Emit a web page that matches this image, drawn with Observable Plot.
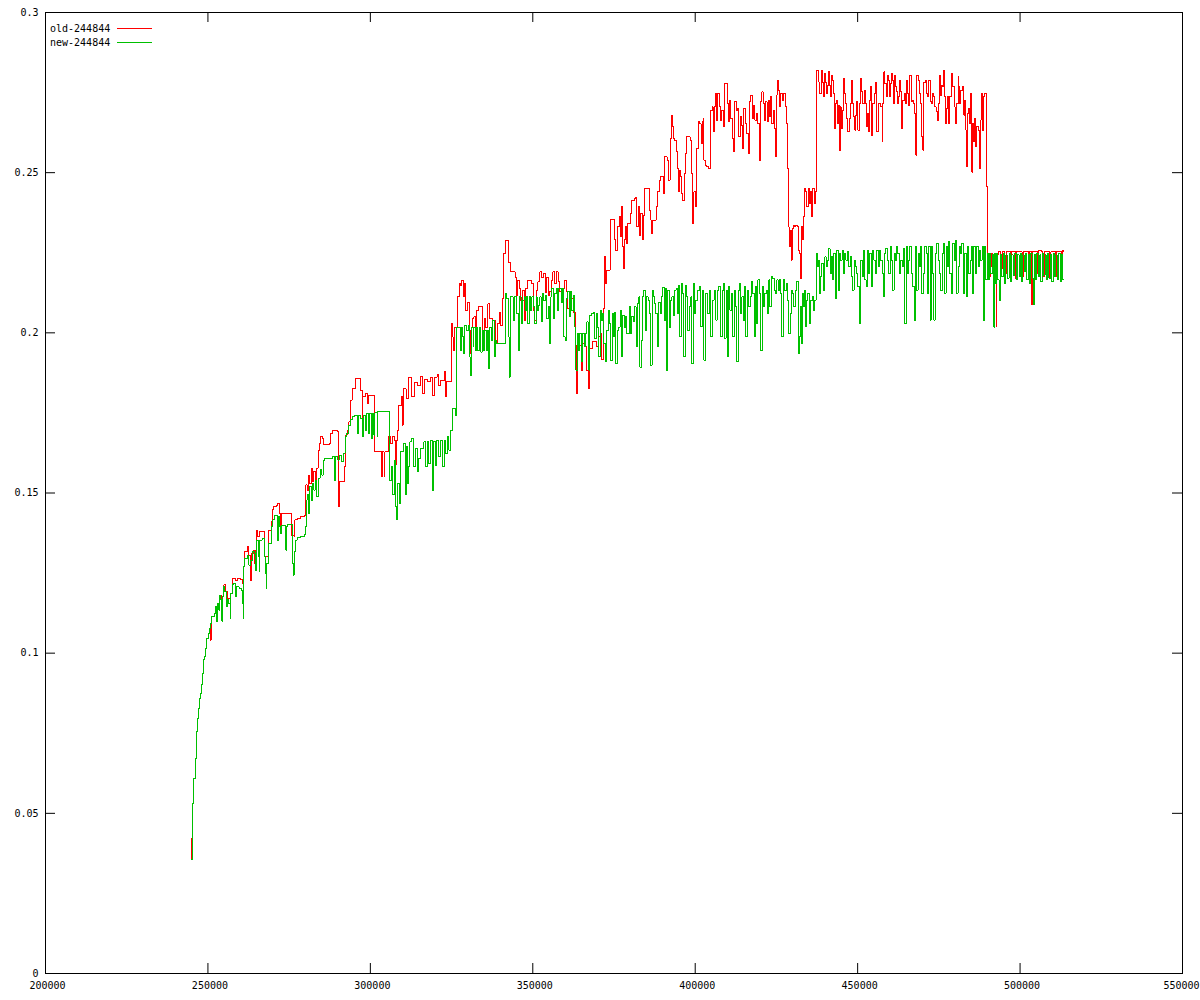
<!DOCTYPE html>
<html>
<head>
<meta charset="utf-8">
<script src="https://cdn.jsdelivr.net/npm/d3@7"></script>
<script src="https://cdn.jsdelivr.net/npm/@observablehq/plot@0.6"></script>
<style>
  html, body { margin: 0; padding: 0; background: #fff; }
  #wrap { position: relative; width: 1200px; height: 1000px; }
  #legend { position: absolute; left: 50px; top: 21px; font: 10px "DejaVu Sans Mono", monospace; color: #000; }
  #legend .row { display: flex; align-items: center; height: 14px; }
  #legend .sw { display: inline-block; width: 35px; height: 0; margin-left: 7px; border-top: 1px solid; }
</style>
</head>
<body>
<div id="wrap"></div>
<script>
// ---- data (x in thousands, y value) ----
const seriesNames = ["old-244844", "new-244844"];
const seriesColors = ["#ff0000", "#00c000"];
const xTicks = [200000, 250000, 300000, 350000, 400000, 450000, 500000, 550000];
const yTicks = [0, 0.05, 0.1, 0.15, 0.2, 0.25, 0.3];

const oldSeries = [
[244.85,0.0360],[245.0,0.0423],[245.1,0.0436],[245.4,0.0532],[245.7,0.061],[246.1,0.0672],[246.4,0.0755],[246.7,0.0797],[247.0,0.0828],[247.4,0.0859],[247.8,0.0873],[248.1,0.0901],[248.4,0.0937],[248.6,0.0979],[249.0,0.0991],[249.3,0.1015],[249.6,0.1046],[250.3,0.1062],[250.6,0.1077],[250.8,0.1041],[251.0,0.1093],[251.1,0.1114],[251.9,0.1124],[252.2,0.1145],[253.1,0.1155],[253.7,0.1181],[254.3,0.1150],[254.5,0.1176],[254.9,0.1213],[255.4,0.1192],[256.0,0.1171],[256.8,0.1166],[257.0,0.1187],[257.5,0.1234],[258.5,0.1228],[259.0,0.1234],[260.0,0.1229],[260.6,0.1218],[261.1,0.1270],[261.4,0.1317],[262.1,0.1332],[262.6,0.1306],[263.0,0.1290],[263.1,0.1228],[263.3,0.1312],[264.0,0.1322],[264.4,0.1280],[264.7,0.1322],[265.0,0.1384],[265.4,0.1364],[266.0,0.1379],[266.9,0.1379],[267.5,0.1301],[268.5,0.1384],[269.3,0.1384],[269.5,0.1410],[269.8,0.1447],[270.3,0.1457],[271.0,0.1462],[271.4,0.1466],[271.9,0.1468],[272.1,0.1436],[272.4,0.1379],[272.7,0.1436],[275.5,0.1436],[275.8,0.1366],[276.5,0.1364],[276.8,0.1416],[277.5,0.1421],[278.5,0.1426],[279.6,0.1431],[280.1,0.1525],[280.6,0.1509],[281.1,0.1556],[281.4,0.1530],[281.8,0.1577],[282.3,0.1535],[282.6,0.1567],[283.0,0.1535],[283.5,0.1577],[283.9,0.1634],[284.3,0.1655],[284.7,0.1676],[285.2,0.1670],[285.5,0.1650],[286.7,0.1650],[287.3,0.1655],[287.6,0.1686],[288.3,0.1694],[290.0,0.1691],[290.1,0.1535],[290.3,0.1457],[290.6,0.1535],[291.6,0.1535],[291.9,0.1582],[292.2,0.1681],[292.9,0.1696],[293.4,0.1722],[293.9,0.1790],[294.4,0.1826],[295.5,0.1857],[296.4,0.1857],[297.0,0.1820],[297.5,0.1686],[297.7,0.1800],[298.5,0.1810],[299.2,0.1780],[299.5,0.1805],[300.5,0.1805],[301.4,0.1629],[303.2,0.1629],[303.5,0.1550],[303.8,0.1629],[304.2,0.1550],[304.5,0.1629],[305.7,0.1676],[306.2,0.1655],[306.8,0.1676],[307.3,0.1665],[307.8,0.1590],[308.1,0.1665],[308.5,0.1696],[308.8,0.1774],[309.5,0.1800],[309.8,0.1712],[310.1,0.1800],[310.3,0.1825],[311.0,0.1795],[311.6,0.1862],[312.4,0.1862],[312.8,0.1800],[313.5,0.1845],[314.5,0.1835],[315.3,0.1865],[316.0,0.1810],[316.6,0.1855],[317.5,0.1848],[318.5,0.1862],[319.2,0.1805],[319.8,0.1862],[320.6,0.1870],[321.0,0.1835],
[321.65,0.1852],[322.7,0.1878],[323.2,0.1800],[323.5,0.1847],[324.9,0.2029],[325.2,0.1987],[325.5,0.1946],[326.0,0.2018],[326.8,0.2112],[327.3,0.2154],[327.8,0.2148],[328.2,0.2164],[328.6,0.2112],[329.0,0.2154],[329.4,0.2070],[329.9,0.2096],[330.4,0.2008],[330.7,0.1935],[331.1,0.2018],[331.5,0.2044],[331.9,0.2050],[332.3,0.1987],[332.7,0.2070],[333.4,0.2081],[334.5,0.1972],[335.0,0.2044],[335.5,0.2018],[336.2,0.2091],[336.8,0.2044],[337.6,0.2039],[338.6,0.1966],[339.1,0.2029],[339.6,0.2065],[340.1,0.2024],[340.6,0.2107],[341.1,0.2247],[341.5,0.2289],[342.5,0.2221],[343.2,0.2190],[344.6,0.2174],[344.9,0.2117],[345.3,0.2164],[345.8,0.2138],[346.3,0.2102],[346.8,0.2133],[347.3,0.2039],[347.8,0.2138],[348.3,0.2164],[349.6,0.2154],[350.2,0.2070],[350.6,0.2039],[351.0,0.2133],[351.6,0.2159],[352.2,0.2190],[352.7,0.2174],[353.3,0.2185],[353.8,0.2127],[354.3,0.2174],[354.7,0.2117],[355.2,0.2128],[355.7,0.2164],[356.2,0.2190],[356.7,0.2154],[357.3,0.2190],[357.8,0.2159],[358.3,0.2128],[358.8,0.2102],[359.3,0.2138],[359.8,0.2164],[360.3,0.2128],[360.8,0.2076],[361.4,0.2112],[361.9,0.2107],[362.5,0.2065],[363.0,0.2008],[363.3,0.1961],[363.5,0.1810],[363.9,0.1961],[364.9,0.1883],[365.4,0.1966],[366.0,0.1956],[366.5,0.1883],[367.0,0.1904],[367.3,0.1826],[367.6,0.1951],[368.3,0.1972],[369.7,0.1956],[370.2,0.1987],[370.7,0.1998],[371.2,0.1916],[371.7,0.2076],
[372.0,0.2237],[372.5,0.2154],[372.8,0.2196],[373.8,0.2354],[375.2,0.2290],[375.5,0.2258],[376.0,0.2331],[376.6,0.2362],[376.9,0.2300],[377.3,0.2393],[377.6,0.2269],[377.9,0.2201],[378.1,0.2290],[378.6,0.2331],[378.9,0.2279],[379.3,0.2342],[380.2,0.2373],[380.5,0.2414],[381.4,0.2419],[381.7,0.2424],[382.0,0.2331],[382.4,0.2393],[382.8,0.2305],[383.2,0.2373],[383.7,0.2290],[384.0,0.2367],[384.5,0.2451],[385.5,0.2451],[385.9,0.2383],[386.3,0.2352],[386.6,0.2310],[387.0,0.2352],[388.0,0.2393],[388.5,0.2440],[389.0,0.2477],[389.4,0.2487],[390.2,0.2435],[390.5,0.2549],[391.4,0.2539],[391.7,0.2477],[392.3,0.2607],[392.6,0.2680],[393.0,0.2643],[393.3,0.2607],[393.7,0.2601],[394.2,0.2565],[394.5,0.2513],[394.8,0.2440],[395.1,0.2508],[395.5,0.2487],[395.9,0.2435],[396.2,0.2414],[396.6,0.2497],[396.9,0.2560],[397.4,0.2612],[398.4,0.2601],[398.9,0.2497],[399.2,0.2341],[399.6,0.2440],[400.1,0.2393],[400.5,0.2575],[400.9,0.2659],[401.4,0.2653],[401.8,0.2591],[402.1,0.2659],[402.4,0.2669],[402.7,0.2539],[403.1,0.2523],[403.5,0.2518],[404.2,0.2513],[404.6,0.2591],[404.8,0.2695],[405.3,0.2705],[405.6,0.2627],[405.9,0.2705],[406.3,0.2747],[406.6,0.2664],[407.0,0.2747],[407.4,0.2705],[407.8,0.2664],[408.2,0.2695],[408.6,0.2643],[409.0,0.2778],[409.5,0.2778],[409.8,0.2716],[410.1,0.2659],[410.5,0.2726],[411.0,0.2669],[411.4,0.2607],[411.7,0.2565],[412.2,0.2721],[412.6,0.2695],[413.0,0.2700],[413.4,0.2612],[413.8,0.2674],[414.2,0.2648],[414.6,0.2575],[415.0,0.2700],[415.4,0.2653],[415.8,0.2622],[416.3,0.2560],[416.7,0.2721],[417.1,0.2742],[417.6,0.2669],[418.0,0.2711],[418.4,0.2664],[418.8,0.2685],[419.2,0.2653],[419.7,0.2539],[420.1,0.2721],[420.5,0.2752],[420.9,0.2716],[421.3,0.2664],[421.7,0.2721],[422.1,0.2659],[422.5,0.2726],[422.9,0.2674],[423.2,0.2737],[423.6,0.2653],[424.0,0.2695],[424.3,0.2638],[424.6,0.2549],[424.9,0.2742],[425.2,0.2789],[425.6,0.2757],[426.0,0.2705],[426.4,0.2747],[426.8,0.2726],[427.3,0.2747],[427.7,0.2705],[428.1,0.2653],[428.4,0.2513],[428.7,0.2331],[428.9,0.2269],[429.2,0.2320],[429.5,0.2227],[429.8,0.2326],[430.2,0.2336],[430.6,0.2331],[431.0,0.2336],[431.5,0.2331],[431.8,0.2258],[432.1,0.2248],[432.4,0.2170],[432.7,0.2331],[433.0,0.2290],[433.3,0.2362],[433.6,0.2451],[434.0,0.2440],[434.4,0.2393],[434.8,0.2451],[435.2,0.2404],[435.6,0.2440],[435.9,0.2362],[436.2,0.2451],[436.6,0.2404],[436.9,0.2440],[437.2,0.2820],
[437.9,0.2820],[438.1,0.2783],[438.4,0.2747],[438.8,0.2820],[439.1,0.2783],[439.4,0.2737],[439.7,0.2809],[440.0,0.2783],[440.3,0.2747],[440.7,0.2773],[441.0,0.2815],[441.3,0.2773],[441.7,0.2737],[442.0,0.2804],[442.3,0.2789],[442.6,0.2747],[443.0,0.2638],[443.3,0.2716],[443.6,0.2726],[443.9,0.2653],[444.2,0.2711],[444.4,0.2570],[444.7,0.2705],[445.0,0.2638],[445.3,0.2695],[445.6,0.2794],[445.9,0.2747],[446.3,0.2716],[446.7,0.2669],[447.0,0.2627],[447.4,0.2669],[447.7,0.2716],[448.0,0.2789],[448.3,0.2716],[448.7,0.2674],[449.1,0.2633],[449.4,0.2680],[449.7,0.2721],[450.1,0.2633],[450.6,0.2716],[451.0,0.2794],[451.3,0.2752],[451.6,0.2716],[452.0,0.2757],[452.4,0.2716],[452.7,0.2643],[453.0,0.2685],[453.4,0.2627],[453.7,0.2726],[454.0,0.2768],[454.3,0.2617],[454.6,0.2716],[455.1,0.2747],[455.5,0.2783],[455.8,0.2627],[456.1,0.2627],[456.4,0.2716],[457.1,0.2705],[457.5,0.2596],[457.8,0.2716],[458.1,0.2815],[458.4,0.2778],[458.8,0.2737],[459.1,0.2804],[459.4,0.2789],[459.7,0.2737],[460.0,0.2778],[460.3,0.2809],[460.6,0.2789],[461.0,0.2716],[461.3,0.2804],[461.7,0.2768],[462.0,0.2752],[462.3,0.2716],[462.7,0.2737],[463.0,0.2789],[463.3,0.2752],[463.6,0.2638],[463.9,0.2726],[464.3,0.2747],[464.7,0.2716],[465.1,0.2789],[465.4,0.2747],[465.7,0.2711],[466.0,0.2804],[466.5,0.2721],[466.9,0.2726],[467.2,0.2716],[467.6,0.2685],[467.9,0.2555],[468.2,0.2804],[468.6,0.2789],[469.0,0.2747],[469.4,0.2716],[469.8,0.2612],[470.1,0.2570],[470.4,0.2783],[470.9,0.2789],[471.2,0.2747],[471.5,0.2737],[471.9,0.2789],[472.3,0.2721],[472.7,0.2716],[473.1,0.2747],[473.5,0.2737],[473.8,0.2705],[474.2,0.2690],[474.5,0.2664],[474.8,0.2716],[475.1,0.2804],[475.4,0.2742],[475.7,0.2773],[476.0,0.2768],[476.3,0.2820],[476.6,0.2737],[477.0,0.2654],[477.3,0.2700],[477.6,0.2737],[478.0,0.2654],[478.4,0.2737],[478.9,0.2809],[479.3,0.2768],[479.7,0.2705],[480.1,0.2654],[480.5,0.2716],[480.9,0.2799],[481.2,0.2768],[481.5,0.2716],[481.8,0.2757],[482.3,0.2768],[482.6,0.2680],[483.0,0.2726],[483.3,0.2633],[483.6,0.2518],[483.9,0.2685],[484.2,0.2700],[484.5,0.2654],[484.8,0.2747],[485.1,0.2502],[485.4,0.2654],[485.7,0.2596],[486.0,0.2669],[486.4,0.2581],[486.7,0.2643],[487.1,0.2633],[487.4,0.2513],[487.7,0.2664],[488.0,0.2747],[488.4,0.2633],[488.7,0.2737],[489.0,0.2747],[489.6,0.2456],
[489.9,0.2248],[490.4,0.2175],[490.8,0.2206],[491.2,0.2248],[491.6,0.2185],[492.0,0.2206],[492.6,0.2019],[492.8,0.2243],[493.3,0.2253],[494.0,0.2200],[494.5,0.2253],[495.2,0.2185],[495.7,0.2253],[496.5,0.2253],[497.0,0.2190],[497.4,0.2253],[498.0,0.2253],[498.6,0.2170],[499.0,0.2253],[500.2,0.2253],[500.6,0.2175],[501.0,0.2253],[502.0,0.2253],[502.6,0.2170],[503.0,0.2253],[503.6,0.2087],[503.9,0.2253],[504.8,0.2253],[505.3,0.2185],[505.7,0.2258],[506.5,0.2253],[507.0,0.2175],[507.4,0.2253],[508.5,0.2253],[509.0,0.2170],[509.5,0.2253],[510.3,0.2253],[510.8,0.2175],[511.2,0.2253],[512.4,0.2253],[512.8,0.2175],[513.2,0.2258],[513.5,0.2253]
];

const newSeries = [
[244.85,0.0355],[245.1,0.0436],[245.4,0.0532],[245.7,0.061],[246.1,0.0672],[246.4,0.0755],[246.7,0.0797],[247.0,0.0828],[247.4,0.0859],[247.8,0.0873],[248.1,0.0901],[248.4,0.0937],[248.6,0.0979],[249.0,0.0991],[249.3,0.1015],[249.6,0.1046],[250.3,0.1062],[250.6,0.1077],[250.8,0.1093],[251.1,0.1114],[251.9,0.1124],[252.2,0.1145],[252.6,0.1098],[252.8,0.1140],[253.1,0.1155],[253.4,0.1134],[253.7,0.1181],[254.0,0.1166],[254.3,0.1100],[254.5,0.1176],[254.9,0.1207],[255.2,0.1192],[255.7,0.1145],[256.0,0.1166],[256.4,0.1155],[256.8,0.1109],[257.0,0.1187],[257.5,0.1213],[258.0,0.1218],[258.5,0.1176],[258.8,0.1207],[259.6,0.1202],[260.3,0.1197],[260.6,0.1155],[260.8,0.1109],[261.0,0.1270],[261.4,0.1296],[262.3,0.1306],[262.6,0.1275],[263.1,0.1290],[263.7,0.1317],[264.2,0.1312],[264.7,0.1259],[265.0,0.1353],[265.5,0.1301],[265.7,0.1353],[265.8,0.1254],[266.0,0.1353],[266.7,0.1358],[267.3,0.1301],[267.6,0.1249],[267.9,0.1202],[268.1,0.1280],[268.5,0.1343],[269.5,0.1395],[270.0,0.1416],[270.6,0.1431],[271.4,0.1353],[271.7,0.1426],[272.1,0.1395],[272.4,0.1374],[272.7,0.1400],[274.0,0.1322],[274.3,0.1395],[274.6,0.1403],[275.9,0.1280],[276.2,0.1244],[276.5,0.1317],[276.9,0.1353],[277.5,0.1362],[278.5,0.1364],[279.6,0.1369],[280.1,0.1395],[280.2,0.1478],[280.6,0.1494],[281.0,0.1436],[281.4,0.1520],[281.8,0.1478],[282.2,0.1530],[282.6,0.1509],[283.0,0.1540],[283.5,0.1488],[283.9,0.1546],[284.5,0.1572],[285.1,0.1556],[285.5,0.1603],[285.9,0.1608],[288.3,0.1615],[289.0,0.1540],[289.3,0.1613],[290.0,0.1603],[290.4,0.1618],[291.1,0.1598],[291.6,0.1624],[292.2,0.1676],[292.7,0.1686],[293.2,0.1712],[293.9,0.1728],[294.4,0.1738],[295.0,0.1743],[296.0,0.1686],[296.3,0.1743],[297.0,0.1733],[297.5,0.1676],[297.8,0.1743],[298.5,0.1696],[298.9,0.1748],[299.4,0.1686],[299.7,0.1748],[300.3,0.1670],[300.6,0.1748],[301.1,0.1681],[301.4,0.1750],[302.1,0.1676],[302.3,0.1754],[306.0,0.1540],[306.4,0.1582],[306.8,0.1494],[307.3,0.1603],[307.8,0.1457],[308.1,0.1416],[308.5,0.1530],[308.9,0.1468],[309.3,0.1629],[310.3,0.1655],[310.7,0.1494],[311.1,0.1644],[311.4,0.1530],[311.8,0.1582],[312.2,0.1660],[312.6,0.1670],[313.2,0.1644],[313.4,0.1582],[313.9,0.1639],[314.4,0.1566],[314.9,0.1608],[315.5,0.1639],[316.5,0.1660],[317.0,0.1582],[317.5,0.1660],[318.0,0.1592],[318.6,0.1665],[319.1,0.1509],[319.4,0.1660],[320.1,0.1587],[320.4,0.1665],[321.1,0.1613],[321.6,0.1665],[322.1,0.1582],[322.7,0.1665],[323.2,0.1624],[323.7,0.1676],[324.2,0.1634],[324.7,0.1696],[325.2,0.1764],[326.3,0.1743],
[326.6,0.2018],[327.8,0.1946],[328.1,0.2018],[328.5,0.1987],[328.8,0.1935],[329.1,0.2024],[329.7,0.2008],[330.1,0.2024],[330.4,0.1925],[330.7,0.1868],[331.1,0.2018],[331.6,0.1956],[331.9,0.2018],[332.3,0.1946],[332.7,0.2018],[333.1,0.1946],[333.6,0.2018],[334.0,0.1940],[334.4,0.2008],[334.8,0.1946],[335.2,0.2008],[335.6,0.1946],[336.0,0.2008],[336.4,0.1888],[336.8,0.2018],[337.2,0.1977],[337.7,0.2039],[338.1,0.1925],[338.5,0.1977],[338.9,0.1966],[341.5,0.2122],[342.0,0.2107],[342.5,0.1987],[342.8,0.1862],[343.1,0.2112],[344.0,0.2039],[344.4,0.2112],[345.0,0.2060],[345.5,0.1945],[345.9,0.2112],[346.4,0.2029],[346.8,0.2102],[347.3,0.2112],[347.7,0.2070],[348.1,0.2112],[348.5,0.2029],[348.9,0.2112],[349.3,0.2070],[349.7,0.2112],[350.2,0.2081],[350.6,0.2029],[351.0,0.2112],[351.4,0.2070],[351.8,0.2086],[352.2,0.2112],[352.6,0.2034],[353.0,0.2122],[353.4,0.2102],[353.9,0.2117],[354.3,0.2044],[354.7,0.2081],[355.1,0.1966],[355.5,0.2112],[355.9,0.2138],[356.3,0.2044],[356.7,0.2122],[357.2,0.2138],[357.6,0.2070],[358.0,0.2138],[358.8,0.2096],[359.2,0.2138],[359.6,0.1987],[360.0,0.1977],[360.4,0.2107],[360.8,0.2128],[361.2,0.2050],[361.6,0.2128],[362.0,0.2070],[362.5,0.2117],[362.9,0.2018],[363.3,0.1883],[363.7,0.1998],[364.1,0.1946],[364.5,0.1998],[364.9,0.1909],[365.3,0.1998],[365.8,0.1956],[366.2,0.1998],[366.6,0.2034],[367.0,0.2018],[367.3,0.1883],[367.6,0.2055],[368.2,0.2060],[368.6,0.2065],[369.1,0.1982],[369.5,0.2060],[369.9,0.2018],[370.3,0.1925],[370.7,0.2070],[371.1,0.2039],[371.5,0.2060],[371.9,0.1966],[372.3,0.1909],[372.7,0.2008],[373.2,0.2070],[373.6,0.2029],[374.0,0.1914],[374.4,0.2060],[374.8,0.1987],[375.2,0.2065],[375.6,0.1904],[376.0,0.2008],[376.5,0.2018],[376.9,0.2070],[377.3,0.1925],[377.7,0.2055],[378.1,0.2018],[378.5,0.2050],[378.9,0.1998],[379.3,0.1998],[379.7,0.2081],[380.1,0.1998],[380.5,0.2050],[380.9,0.2034],[381.4,0.2081],[381.8,0.1956],[382.2,0.2091],[382.6,0.2112],[383.0,0.1893],[383.4,0.1977],[383.8,0.2112],[384.2,0.2133],[384.6,0.2008],[385.0,0.2112],[385.5,0.2102],[385.9,0.2060],[386.3,0.1899],[386.7,0.2133],[387.1,0.2112],[387.5,0.2091],[387.9,0.2060],[388.3,0.1956],[388.7,0.2096],[389.2,0.2060],[389.6,0.2112],[390.0,0.2143],[390.4,0.2039],[390.8,0.2138],[391.2,0.1883],[391.6,0.2133],[392.0,0.2018],[392.4,0.2102],[392.8,0.2112],[393.3,0.2055],[393.7,0.2133],[394.1,0.2138],[394.5,0.2060],[394.9,0.2148],[395.3,0.1987],[395.7,0.2154],[396.1,0.2122],[396.5,0.1925],[396.9,0.2148],[397.3,0.2112],[397.7,0.2008],[398.2,0.2081],[398.6,0.2112],[399.0,0.1904],[399.4,0.2154],[399.8,0.2060],
[400.2,0.2102],[400.7,0.2133],[401.2,0.2144],[401.7,0.2019],[402.2,0.2133],[402.7,0.1915],[403.2,0.2123],[403.7,0.2061],[404.3,0.2133],[404.8,0.1988],[405.3,0.2102],[405.8,0.2133],[406.3,0.2040],[406.8,0.2133],[407.3,0.2144],[407.9,0.1988],[408.4,0.2133],[408.7,0.2154],[409.1,0.1983],[409.5,0.2133],[409.9,0.1925],[410.3,0.2144],[410.7,0.2071],[411.1,0.2123],[411.5,0.1988],[412.0,0.2133],[412.4,0.2081],[412.8,0.1910],[413.2,0.2133],[413.6,0.2154],[414.0,0.2061],[414.4,0.2113],[414.8,0.2040],[415.2,0.2144],[415.6,0.1988],[416.1,0.2133],[416.5,0.2081],[416.9,0.2113],[417.3,0.2159],[417.7,0.2123],[418.1,0.1988],[418.5,0.2144],[418.9,0.2029],[419.3,0.2165],[419.8,0.2123],[420.2,0.1946],[420.6,0.2144],[421.0,0.2081],[421.4,0.2123],[421.8,0.2133],[422.2,0.2061],[422.6,0.2165],[423.0,0.2081],[423.4,0.2175],[423.9,0.2170],[424.3,0.2133],[424.7,0.2123],[425.1,0.2165],[425.5,0.2133],[425.9,0.2165],[426.3,0.2123],[426.7,0.1988],[427.1,0.2165],[427.6,0.2133],[428.0,0.2154],[428.4,0.2102],[428.8,0.1998],[429.2,0.2061],[429.6,0.2133],[430.0,0.2123],[430.4,0.2081],[430.8,0.2133],[431.2,0.2159],[431.7,0.1936],[432.0,0.1988],[432.4,0.2081],[432.7,0.1967],[433.0,0.2123],[433.3,0.2081],[433.7,0.2133],[434.0,0.2019],[434.3,0.2102],[434.7,0.2123],[435.1,0.2029],[435.6,0.2102],[436.0,0.2113],[436.4,0.2071],[436.8,0.2102],[437.2,0.2248],[437.6,0.2206],[437.9,0.2227],[438.2,0.2123],[438.6,0.2175],[439.0,0.2217],[439.5,0.2133],[439.9,0.2237],[440.3,0.2206],[440.7,0.2227],[441.1,0.2263],[441.5,0.2185],[441.9,0.2237],[442.3,0.2165],[442.7,0.2248],[443.1,0.2107],[443.6,0.2258],[444.0,0.2133],[444.4,0.2248],[444.8,0.2227],[445.2,0.2258],[445.6,0.2185],[446.0,0.2248],[446.4,0.2227],[446.8,0.2253],[447.3,0.2206],[447.7,0.2237],[448.1,0.2175],[448.5,0.2133],[448.9,0.2227],[449.3,0.2206],[449.7,0.2185],[450.1,0.2144],[450.5,0.2029],[450.9,0.2227],[451.4,0.2175],[451.8,0.2258],[452.2,0.2165],[452.6,0.2144],[453.0,0.2258],[453.4,0.2185],[453.8,0.2248],[454.2,0.2144],[454.6,0.2258],[455.0,0.2227],[455.5,0.2185],[455.9,0.2258],[456.3,0.2206],[456.7,0.2258],[457.1,0.2227],[457.5,0.2185],[457.9,0.2113],[458.3,0.2248],[458.7,0.2263],[459.2,0.2227],[459.6,0.2185],[460.0,0.2269],[460.4,0.2227],[460.8,0.2133],[461.2,0.2248],[461.6,0.2227],[462.0,0.2269],[462.4,0.2248],[462.8,0.2185],[463.3,0.2227],[463.7,0.2206],[464.1,0.2263],[464.5,0.2029],[464.9,0.2269],[465.3,0.2185],[465.7,0.2227],[466.1,0.2269],[466.5,0.2185],[467.0,0.2144],[467.4,0.2040],[467.8,0.2269],[468.2,0.2133],[468.6,0.2248],[469.0,0.2206],[469.4,0.2269],[469.8,0.2123],[470.2,0.2185],[470.6,0.2269],[471.1,0.2248],[471.5,0.2123],[471.9,0.2269],[472.3,0.2040],[472.7,0.2269],[473.1,0.2185],[473.5,0.2040],[473.9,0.2248],[474.3,0.2279],[474.8,0.2227],[475.2,0.2185],[475.6,0.2133],[476.0,0.2248],[476.4,0.2279],[476.8,0.2123],[477.2,0.2269],[477.6,0.2206],[478.0,0.2284],[478.4,0.2185],[478.9,0.2123],[479.3,0.2279],[479.7,0.2227],[480.1,0.2289],[480.5,0.2123],[480.9,0.2206],[481.3,0.2269],[481.7,0.2248],[482.1,0.2279],[482.5,0.2123],[483.0,0.2248],[483.4,0.2113],[483.8,0.2269],[484.2,0.2185],[484.6,0.2227],[485.0,0.2269],[485.4,0.2123],[485.8,0.2269],[486.2,0.2185],[486.6,0.2269],[487.1,0.2206],[487.5,0.2258],[487.9,0.2227],[488.3,0.2269],[488.7,0.2040],[489.1,0.2269],[489.5,0.2165],
[489.9,0.2248],[490.3,0.2165],[490.7,0.2248],[491.0,0.2185],[491.4,0.2243],[491.9,0.2018],[492.1,0.2248],[492.5,0.2155],[492.8,0.2248],[493.2,0.2165],[493.6,0.2102],[493.9,0.2243],[494.4,0.2175],[494.8,0.2248],[495.3,0.2155],[495.6,0.2243],[496.1,0.2170],[496.6,0.2248],[497.0,0.2160],[497.5,0.2243],[497.9,0.2180],[498.3,0.2248],[498.8,0.2165],[499.1,0.2243],[499.7,0.2175],[500.0,0.2248],[500.5,0.2160],[500.9,0.2243],[501.3,0.2190],[501.6,0.2248],[502.1,0.2165],[502.5,0.2243],[502.9,0.2155],[503.3,0.2248],[503.7,0.2170],[504.0,0.2087],[504.3,0.2243],[504.8,0.2165],[505.2,0.2248],[505.6,0.2175],[506.0,0.2243],[506.4,0.2160],[506.8,0.2248],[507.3,0.2180],[507.7,0.2243],[508.1,0.2165],[508.5,0.2248],[508.9,0.2170],[509.3,0.2243],[509.8,0.2160],[510.2,0.2248],[510.6,0.2175],[511.0,0.2243],[511.5,0.2165],[511.9,0.2248],[512.3,0.2160],[512.7,0.2243],[513.1,0.2165],[513.4,0.2165]
];

const series = [oldSeries, newSeries];

// ---- chart ----
const fmt = d => String(d);
const xInner = xTicks.slice(0, -1);
const xLast = xTicks.slice(-1);
const chart = Plot.plot({
  width: 1200,
  height: 1000,
  marginLeft: 45,
  marginRight: 18,
  marginTop: 12,
  marginBottom: 27,
  style: { fontFamily: "'DejaVu Sans Mono', monospace", fontSize: "10px", background: "#fff", color: "#000" },
  x: { domain: [200000, 550000] },
  y: { domain: [0, 0.3] },
  marks: [
    // inward ticks (gnuplot style, mirrored)
    Plot.ruleX(xTicks, { x: d => d, y1: 0, y2: 0, insetTop: -10, stroke: "#000" }),
    Plot.ruleX(xTicks, { x: d => d, y1: 0.3, y2: 0.3, insetBottom: -10, stroke: "#000" }),
    Plot.ruleY(yTicks, { y: d => d, x1: 200000, x2: 200000, insetRight: -10, stroke: "#000" }),
    Plot.ruleY(yTicks, { y: d => d, x1: 550000, x2: 550000, insetLeft: -10, stroke: "#000" }),
    Plot.axisX(xInner, { tickSize: 0, tickPadding: 8, tickFormat: fmt, label: null, dx: 2 }),
    Plot.axisX(xLast, { tickSize: 0, tickPadding: 8, tickFormat: fmt, label: null, dx: -1 }),
    Plot.axisY(yTicks, { tickSize: 0, tickPadding: 7, tickFormat: fmt, label: null }),
    ...series.map((s, i) => Plot.line(s, {
      x: d => d[0] * 1000,
      y: d => d[1],
      curve: "step-after",
      stroke: seriesColors[i],
      strokeWidth: 1,
      shapeRendering: "crispEdges"
    })),
    Plot.frame({ stroke: "#000", shapeRendering: "crispEdges" })
  ]
});

const wrap = document.getElementById("wrap");
wrap.appendChild(chart);

// legend (inside plot area, top-left, as in the reference)
const legend = document.createElement("div");
legend.id = "legend";
seriesNames.forEach((name, i) => {
  const row = document.createElement("div");
  row.className = "row";
  const t = document.createElement("span");
  t.textContent = name;
  const sw = document.createElement("span");
  sw.className = "sw";
  sw.style.borderTopColor = seriesColors[i];
  row.appendChild(t);
  row.appendChild(sw);
  legend.appendChild(row);
});
wrap.appendChild(legend);
</script>
</body>
</html>
